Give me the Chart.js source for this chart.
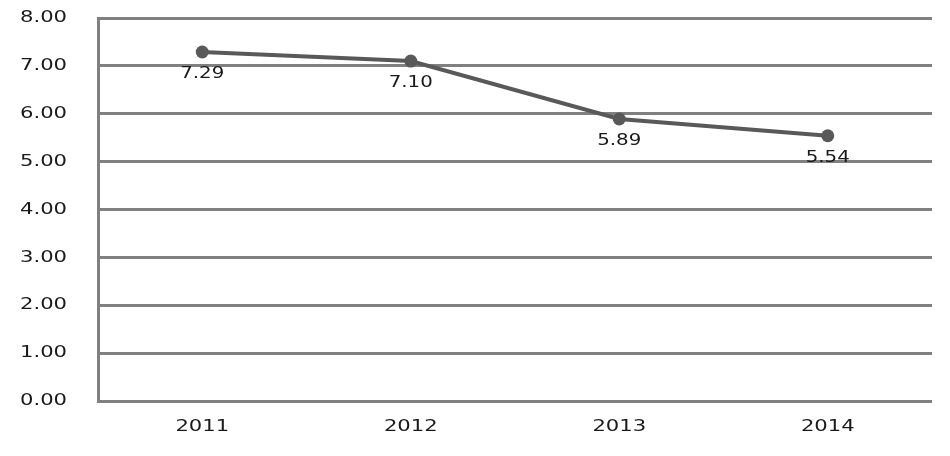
<!DOCTYPE html>
<html>
<head>
<meta charset="utf-8">
<script src="https://cdn.jsdelivr.net/npm/chart.js@4/dist/chart.umd.min.js"></script>
<style>
  html, body { margin: 0; padding: 0; background: #fff; }
  #wrap { width: 950px; height: 456px; }
</style>
</head>
<body>
<div id="wrap"><canvas id="chart" width="950" height="456"></canvas></div>
<script>
// =============================================================================
// DATA
// =============================================================================

const years = ['2011', '2012', '2013', '2014'];
const values = [7.29, 7.10, 5.89, 5.54];
const yTicks = [0, 1, 2, 3, 4, 5, 6, 7, 8];

const GRID = '#808080';
const LINE = '#595959';
const TEXT = '#1a1a1a';
const FONT = "'DejaVu Sans', Verdana, sans-serif";
const STRETCH = 1.32; // reference text is drawn horizontally widened

// Draw text widened horizontally around its anchor point
function wideText(ctx, str, x, y, align) {
  ctx.save();
  ctx.translate(x, y);
  ctx.scale(STRETCH, 1);
  ctx.textAlign = align;
  ctx.textBaseline = 'middle';
  ctx.fillText(str, 0, 0);
  ctx.restore();
}

// Axis tick labels and value labels
const textLayer = {
  id: 'textLayer',
  afterDatasetsDraw(chart) {
    const ctx = chart.ctx;
    const xs = chart.scales.x;
    const ys = chart.scales.y;
    ctx.save();
    ctx.fillStyle = TEXT;

    ctx.font = '16px ' + FONT;
    yTicks.forEach(v => wideText(ctx, v.toFixed(2), 67, ys.getPixelForValue(v), 'right'));

    ctx.font = '16px ' + FONT;
    years.forEach((yr, i) => wideText(ctx, yr, xs.getPixelForValue(i), 427, 'center'));

    ctx.font = '15px ' + FONT;
    const meta = chart.getDatasetMeta(0);
    meta.data.forEach((pt, i) => wideText(ctx, values[i].toFixed(2), pt.x, pt.y + 22, 'center'));
    ctx.restore();
  }
};

new Chart(document.getElementById('chart').getContext('2d'), {
  type: 'line',
  data: {
    labels: years,
    datasets: [{
      data: values,
      borderColor: LINE,
      backgroundColor: LINE,
      borderWidth: 4,
      tension: 0,
      pointRadius: 6.5,
      pointHoverRadius: 6.5,
      pointBackgroundColor: LINE,
      pointBorderWidth: 0
    }]
  },
  options: {
    responsive: false,
    animation: false,
    layout: { padding: { top: 18, right: 18, left: 0, bottom: 0 } },
    plugins: {
      legend: { display: false },
      tooltip: { enabled: false }
    },
    scales: {
      x: {
        offset: true,
        grid: { display: false, drawTicks: false },
        border: { display: false },
        ticks: { display: false },
        afterFit: (s) => { s.height = 55; }
      },
      y: {
        min: 0,
        max: 8,
        grid: { color: GRID, lineWidth: 3, drawTicks: false },
        border: { display: true, color: GRID, width: 3 },
        ticks: { display: false, stepSize: 1 },
        afterFit: (s) => { s.width = 98; }
      }
    }
  },
  plugins: [textLayer]
});
</script>
</body>
</html>
